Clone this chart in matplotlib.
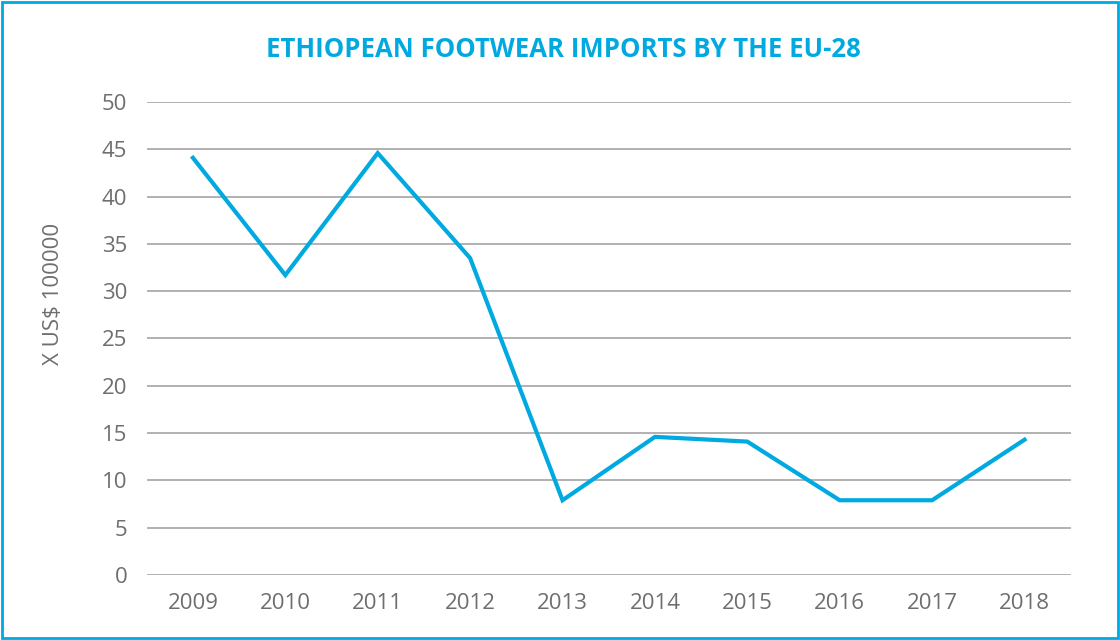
import matplotlib.pyplot as plt
from matplotlib.patches import Rectangle

# Datos
anios = ["2009", "2010", "2011", "2012", "2013", "2014", "2015", "2016", "2017", "2018"]
importaciones = [44.1, 31.7, 44.6, 33.5, 7.9, 14.6, 14.1, 7.9, 7.9, 14.3]
ticks_y = [0, 5, 10, 15, 20, 25, 30, 35, 40, 45, 50]

AZUL = "#00a9e0"
GRIS_TEXTO = "#6d6e70"
GRIS_REJILLA = "#9d9d9d"

plt.rcParams["font.family"] = ["Open Sans", "DejaVu Sans"]

fig = plt.figure(figsize=(11.2, 6.4), dpi=100)
ax = fig.add_axes([0.131, 0.1016, 0.825, 0.739])

x = list(range(len(anios)))
ax.plot(x, importaciones, color=AZUL, linewidth=3, solid_joinstyle="miter")

ax.set_xlim(-0.5, len(anios) - 0.5)
ax.set_ylim(0, 50)
ax.set_yticks(ticks_y)
ax.set_xticks(x)
ax.set_xticklabels(anios)

ax.grid(axis="y", color=GRIS_REJILLA, linewidth=1.1)
ax.set_axisbelow(True)
for s in ax.spines.values():
    s.set_visible(False)
ax.tick_params(axis="both", length=0, labelsize=16, colors=GRIS_TEXTO)
ax.tick_params(axis="y", pad=14)
ax.tick_params(axis="x", pad=13)

ax.set_ylabel("X US$ 100000", fontsize=16, color=GRIS_TEXTO)
ax.yaxis.set_label_coords(-0.09, 0.595)

fig.text(0.503, 0.922, "ETHIOPEAN FOOTWEAR IMPORTS BY THE EU-28", ha="center", va="center",
         fontsize=18.5, fontweight="bold", color=AZUL)

# Marco exterior
fig.patches.append(Rectangle((0.002, 0.003), 0.996, 0.994, transform=fig.transFigure,
                             fill=False, edgecolor=AZUL, linewidth=2))

fig.savefig("out.png", dpi=100)
